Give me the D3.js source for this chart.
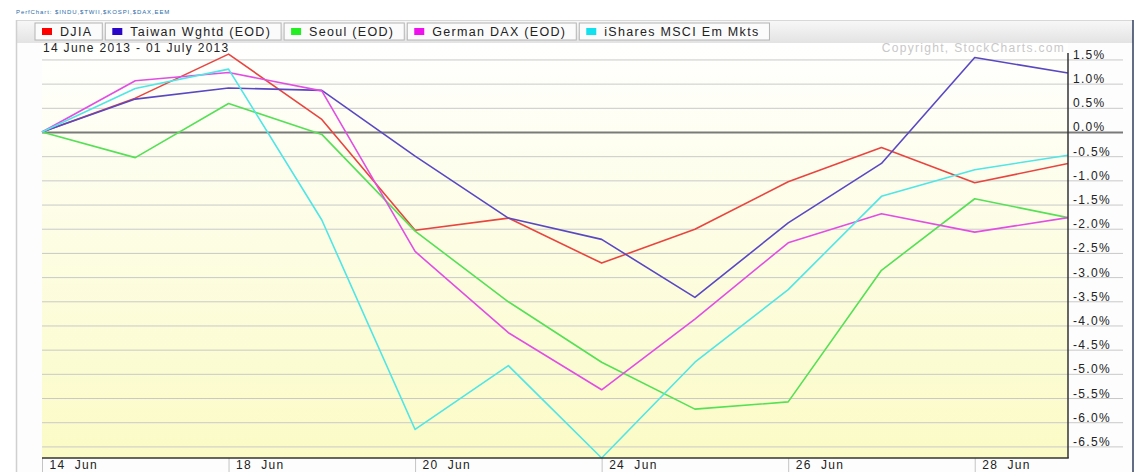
<!DOCTYPE html>
<html>
<head>
<meta charset="utf-8">
<script src="https://cdn.jsdelivr.net/npm/d3@7"></script>
<style>
  body { margin: 0; background: #fff; }
  svg text { font-family: Arial, "Liberation Sans", sans-serif; }
</style>
</head>
<body>
<div id="chart"></div>
<script>
// Data (percent change since 14 June 2013)
var dates = ["14 Jun","17 Jun","18 Jun","19 Jun","20 Jun","21 Jun","24 Jun","25 Jun","26 Jun","27 Jun","28 Jun","01 Jul"];
var tickDates = ["14 Jun","18 Jun","20 Jun","24 Jun","26 Jun","28 Jun"];
var yTicks = [1.5,1.0,0.5,0.0,-0.5,-1.0,-1.5,-2.0,-2.5,-3.0,-3.5,-4.0,-4.5,-5.0,-5.5,-6.0,-6.5];

var seriesNames = ["DJIA","Taiwan Wghtd (EOD)","Seoul (EOD)","German DAX (EOD)","iShares MSCI Em Mkts"];
var djia   = [0, 0.70, 1.61, 0.26, -2.03, -1.78, -2.71, -2.01, -1.03, -0.32, -1.05, -0.65];
var taiwan = [0, 0.68, 0.91, 0.86, -0.50, -1.78, -2.22, -3.42, -1.88, -0.65, 1.54, 1.22];
var seoul  = [0, -0.53, 0.59, -0.05, -2.05, -3.51, -4.76, -5.73, -5.58, -2.86, -1.38, -1.77];
var dax    = [0, 1.06, 1.23, 0.85, -2.47, -4.15, -5.33, -3.87, -2.29, -1.69, -2.07, -1.77];
var eem    = [0, 0.90, 1.30, -1.82, -6.15, -4.83, -6.74, -4.76, -3.26, -1.33, -0.78, -0.48];

var lineColors = ["#e8453f","#5a48c2","#55e055","#e24ee2","#4fe6e6"];
var swatchColors = ["#ff0000","#2a06c8","#22ee22","#ee11ee","#11e0ee"];

var W = 1135, H = 472;
var plot = {left: 42, right: 1068, top: 43, bottom: 458};

var svg = d3.select("#chart").append("svg")
    .attr("width", W).attr("height", H);

var defs = svg.append("defs");
var bg = defs.append("linearGradient").attr("id","plotBg")
    .attr("x1",0).attr("y1",0).attr("x2",0).attr("y2",1);
bg.append("stop").attr("offset","0%").attr("stop-color","#ffffff");
bg.append("stop").attr("offset","100%").attr("stop-color","#fbfbc6");
var bar = defs.append("linearGradient").attr("id","barBg")
    .attr("x1",0).attr("y1",0).attr("x2",0).attr("y2",1);
bar.append("stop").attr("offset","0%").attr("stop-color","#f8f8f8");
bar.append("stop").attr("offset","100%").attr("stop-color","#e3e3e3");

// tiny header
svg.append("text")
    .attr("x", 16).attr("y", 14)
    .style("font-size","6px").style("letter-spacing","0.9px")
    .attr("fill","#2a6aa8")
    .text("PerfChart: $INDU,$TWII,$KOSPI,$DAX,EEM");

// panel
svg.append("rect").attr("x",16).attr("y",20).attr("width",1117).attr("height",H-20)
    .attr("fill","#fdfdfd");
svg.append("rect").attr("x",16).attr("y",20).attr("width",1117).attr("height",23)
    .attr("fill","url(#barBg)");
svg.append("line").attr("x1",16).attr("x2",1133).attr("y1",20.5).attr("y2",20.5)
    .attr("stroke","#d8d8d8");
svg.append("line").attr("x1",16.5).attr("x2",16.5).attr("y1",20).attr("y2",H)
    .attr("stroke","#d0d0d0").attr("stroke-width",1.5);
svg.append("line").attr("x1",1133).attr("x2",1133).attr("y1",20).attr("y2",H)
    .attr("stroke","#2e3e5e").attr("stroke-width",1.5);

// plot background
svg.append("rect")
    .attr("x",plot.left).attr("y",plot.top)
    .attr("width",plot.right-plot.left).attr("height",plot.bottom-plot.top)
    .attr("fill","url(#plotBg)");

var x = d3.scalePoint().domain(dates).range([plot.left, plot.right]);
var y = d3.scaleLinear().domain([-6.74, 1.84]).range([plot.bottom, plot.top]);

// right axis with grid lines running across the plot
var yAxis = d3.axisRight(y)
    .tickValues(yTicks)
    .tickSize(55)
    .tickFormat(function(d){ return d.toFixed(1) + "%"; });

var yG = svg.append("g")
    .attr("transform","translate(" + plot.right + ",0)")
    .call(yAxis);
yG.select(".domain").remove();
yG.selectAll(".tick line")
    .attr("x1", plot.left - plot.right)
    .attr("x2", 55)
    .attr("stroke", function(d){ return d === 0 ? "#7a7a7a" : "#c9c9c9"; })
    .attr("stroke-width", function(d){ return d === 0 ? 2 : 1; });
yG.selectAll(".tick text")
    .attr("x", 5).attr("y", -1).attr("dy", 0)
    .attr("fill","#222")
    .style("font-size","12px").style("letter-spacing","1.3px");

// copyright + date range
svg.append("text")
    .attr("x", plot.right - 3).attr("y", 52)
    .attr("text-anchor","end")
    .attr("fill","#c8c8c8")
    .style("font-size","12px").style("letter-spacing","1.3px")
    .text("Copyright, StockCharts.com");
svg.append("text")
    .attr("x", 43).attr("y", 52)
    .attr("fill","#222")
    .style("font-size","12px").style("letter-spacing","1.3px")
    .text("14 June 2013 - 01 July 2013");

// series lines
var allSeries = [djia, taiwan, seoul, dax, eem];
var line = d3.line()
    .x(function(d, i){ return x(dates[i]); })
    .y(function(d){ return y(d); });

svg.selectAll(".series")
    .data(allSeries)
    .enter().append("path")
    .attr("class","series")
    .attr("d", line)
    .attr("fill","none")
    .attr("stroke", function(d, i){ return lineColors[i]; })
    .attr("stroke-width", 1.6)
    .attr("stroke-linejoin","round");

// axis frame lines
svg.append("line")
    .attr("x1", plot.right).attr("x2", plot.right)
    .attr("y1", 53).attr("y2", plot.bottom)
    .attr("stroke","#333").attr("stroke-width",1.5);

// bottom date axis
var xAxis = d3.axisBottom(x)
    .tickValues(tickDates)
    .tickSize(H - plot.bottom)
    .tickFormat(function(d){ return d.replace(" ", "  "); });
var xG = svg.append("g")
    .attr("transform","translate(0," + plot.bottom + ")")
    .call(xAxis);
xG.select(".domain").remove();
xG.selectAll(".tick line").attr("stroke","#c4c4c4");
xG.selectAll(".tick text")
    .attr("text-anchor","start")
    .attr("x", 7).attr("y", 11).attr("dy", 0)
    .attr("fill","#222")
    .style("font-size","12px").style("letter-spacing","1.3px")
    .style("white-space","pre");

svg.append("line")
    .attr("x1", plot.left).attr("x2", plot.right + 0.75)
    .attr("y1", plot.bottom).attr("y2", plot.bottom)
    .attr("stroke","#333").attr("stroke-width",1.5);

// legend tabs
var legend = svg.append("g").attr("class","legend");
var tabX = 35;
seriesNames.forEach(function(name, i){
    var g = legend.append("g").attr("transform","translate(" + tabX + ",23)");
    var rect = g.append("rect")
        .attr("y", 0).attr("height", 17)
        .attr("fill","#fbfbfb")
        .attr("stroke","#b4b4b4");
    g.append("rect")
        .attr("x", 7).attr("y", 5).attr("width", 10).attr("height", 7)
        .attr("fill", swatchColors[i]);
    var t = g.append("text")
        .attr("x", 25).attr("y", 13)
        .attr("fill","#222")
        .style("font-size","12.5px").style("letter-spacing","1.3px")
        .text(name);
    var w = 25 + t.node().getComputedTextLength() + 10;
    rect.attr("width", w);
    tabX += w + 3;
});
</script>
</body>
</html>
